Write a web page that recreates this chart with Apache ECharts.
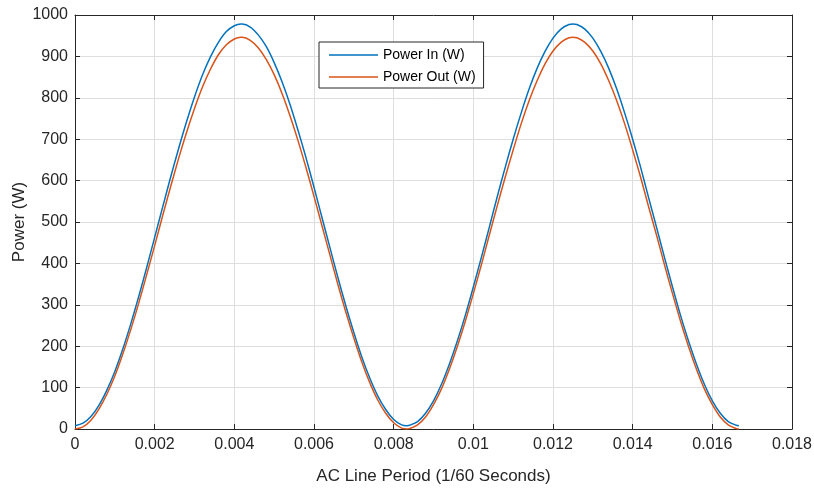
<!DOCTYPE html>
<html><head><meta charset="utf-8">
<script src="https://cdn.jsdelivr.net/npm/echarts@6/dist/echarts.min.js"></script>
<style>html,body{margin:0;padding:0;background:#fff}#c{width:814px;height:490px}</style>
</head><body><div id="c"></div>
<script>
const seriesNames = ['Power In (W)', 'Power Out (W)'];
const time = [0,0.0002,0.0004,0.0006,0.0008,0.001,0.0012,0.0014,0.0016,0.0018,
0.002,0.0022,0.0024,0.0026,0.0028,0.003,0.0032,0.0034,0.0036,0.0038,
0.004,0.004167,0.0042,0.0044,0.0046,0.0048,0.005,0.0052,0.0054,0.0056,0.0058,
0.006,0.0062,0.0064,0.0066,0.0068,0.007,0.0072,0.0074,0.0076,0.0078,
0.008,0.0082,0.008333,0.0084,0.0086,0.0088,0.009,0.0092,0.0094,0.0096,0.0098,
0.01,0.0102,0.0104,0.0106,0.0108,0.011,0.0112,0.0114,0.0116,0.0118,
0.012,0.0122,0.0124,0.0125,0.0126,0.0128,0.013,0.0132,0.0134,0.0136,0.0138,
0.014,0.0142,0.0144,0.0146,0.0148,0.015,0.0152,0.0154,0.0156,0.0158,
0.016,0.0162,0.0164,0.0166,0.016667];
const powerIn = [8,14,30,57,94,139,193,254,320,390,
463,536,608,677,742,802,855,899,934,960,
974,978,978,971,952,924,885,838,783,721,655,
584,511,438,366,297,233,174,123,80,47,
23,10,8,9,18,38,68,108,157,213,275,
343,414,487,561,632,700,763,821,871,912,
944,966,977,978,977,966,944,912,871,821,763,
700,632,559,487,414,343,275,213,157,108,
68,38,18,9,8];
const powerOut = [0,5,21,48,84,128,181,240,304,373,
443,515,585,653,716,774,826,869,904,928,
942,946,946,939,921,893,856,810,756,696,631,
562,491,420,349,282,220,162,112,70,38,
15,2,0,1,10,29,59,97,145,200,261,
327,396,468,539,608,674,737,793,841,882,
913,934,945,946,945,934,913,882,841,793,737,
674,608,537,468,396,327,261,200,145,97,
59,29,10,1,0];
const xTicks = {min:0, max:0.018, interval:0.002};
const yTicks = {min:0, max:1000, interval:100};
const xName = 'AC Line Period (1/60 Seconds)';
const yName = 'Power (W)';

const FONT = 'Liberation Sans, Arial, Helvetica, sans-serif';
const AX = '#262626';
const chart = echarts.init(document.getElementById('c'), null, {renderer:'canvas'});
const pair = a => time.map((t,i)=>[t,a[i]]);
const baseAxis = {
  axisLine:{show:true, onZero:false, lineStyle:{color:AX, width:1}},
  axisTick:{show:true, inside:true, length:5, lineStyle:{color:AX, width:1}},
  axisLabel:{color:AX, fontSize:16, fontFamily:FONT},
  splitLine:{show:true, lineStyle:{color:'#dedede', width:1}},
  nameTextStyle:{color:AX, fontSize:17, fontFamily:FONT}
};
chart.setOption({
  animation:false,
  backgroundColor:'#fff',
  grid:{left:75, right:22, top:15, bottom:61, containLabel:false, outerBoundsMode:'none'},
  legend:{
    data:seriesNames, orient:'vertical', left:319, top:42, icon:'rect',
    backgroundColor:'#fff', borderColor:AX, borderWidth:1, borderRadius:0,
    padding:[6,8,4,10], itemWidth:49, itemHeight:1.5, itemGap:8,
    textStyle:{color:'#000', fontSize:14, fontFamily:FONT}
  },
  xAxis:[
    Object.assign({}, baseAxis, {type:'value', min:xTicks.min, max:xTicks.max, interval:xTicks.interval,
      name:xName, nameLocation:'middle', nameGap:39, nameMoveOverlap:false,
      axisLabel:Object.assign({}, baseAxis.axisLabel, {margin:8, formatter:v=>String(+v.toFixed(4))})}),
    Object.assign({}, baseAxis, {type:'value', position:'top', min:xTicks.min, max:xTicks.max, interval:xTicks.interval,
      axisLabel:{show:false}, splitLine:{show:false}})
  ],
  yAxis:[
    Object.assign({}, baseAxis, {type:'value', min:yTicks.min, max:yTicks.max, interval:yTicks.interval,
      name:yName, nameLocation:'middle', nameGap:47, nameMoveOverlap:false,
      axisLabel:Object.assign({}, baseAxis.axisLabel, {margin:7, formatter:v=>String(v)})}),
    Object.assign({}, baseAxis, {type:'value', position:'right', min:yTicks.min, max:yTicks.max, interval:yTicks.interval,
      axisLabel:{show:false}, splitLine:{show:false}})
  ],
  series:[
    {name:seriesNames[0], type:'line', data:pair(powerIn), symbol:'none', smooth:0.3,
      lineStyle:{color:'#0072BD', width:1.5}, itemStyle:{color:'#0072BD'}},
    {name:seriesNames[1], type:'line', data:pair(powerOut), symbol:'none', smooth:0.3,
      lineStyle:{color:'#D95319', width:1.5}, itemStyle:{color:'#D95319'}}
  ]
});
</script></body></html>
